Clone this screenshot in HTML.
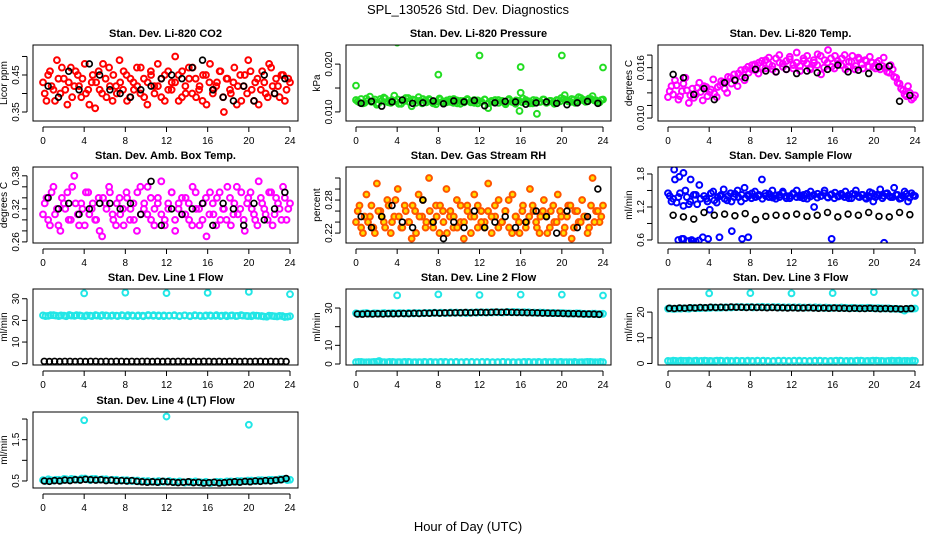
<!DOCTYPE html>
<html><head><meta charset="utf-8"><style>
body{margin:0;background:#fff;}
svg{display:block;font-family:"Liberation Sans",sans-serif;}
</style></head><body>
<svg id="chart" width="936" height="540" viewBox="0 0 936 540" xmlns="http://www.w3.org/2000/svg">
<rect width="936" height="540" fill="#fff"/>
<text x="468" y="14" font-size="13" text-anchor="middle">SPL_130526  Std. Dev. Diagnostics</text>
<text x="468" y="531" font-size="13" text-anchor="middle">Hour of Day (UTC)</text>
</svg>
<script>
const co2=[0.43,0.38,0.46,0.41,0.49,0.40,0.44,0.37,0.47,0.42,0.45,0.39,0.48,0.41,0.43,0.36,0.46,0.40,0.44,0.47,0.38,0.42,0.49,0.41,0.45,0.39,0.43,0.47,0.40,0.44,0.37,0.46,0.42,0.48,0.39,0.45,0.41,0.43,0.50,0.38,0.46,0.40,0.44,0.47,0.39,0.42,0.45,0.37,0.48,0.41,0.43,0.46,0.35,0.44,0.40,0.47,0.42,0.38,0.45,0.49,0.41,0.43,0.37,0.46,0.40,0.48,0.42,0.44,0.39,0.45,0.41,0.43];
const co2B=[0.40,0.45,0.42,0.38,0.44,0.47,0.41,0.43,0.39,0.46,0.42,0.44,0.40,0.37,0.45,0.43,0.41,0.48,0.39,0.42,0.45,0.40,0.43,0.46,0.38,0.44,0.41,0.42,0.47,0.39,0.43,0.45,0.40,0.42,0.44,0.38,0.46,0.41,0.43,0.45,0.39,0.42,0.47,0.40,0.44,0.41,0.38,0.45,0.43,0.40,0.42,0.46,0.39,0.44,0.41,0.43,0.37,0.45,0.42,0.40,0.46,0.38,0.44,0.41,0.43,0.39,0.47,0.40,0.42,0.45,0.38,0.44];
const co2Black=[0.42,0.39,0.46,0.41,0.48,0.45,0.41,0.40,0.39,0.41,0.42,0.44,0.45,0.44,0.47,0.49,0.41,0.39,0.38,0.42,0.38,0.45,0.40,0.44];
const pres=[0.0125,0.012,0.0118,0.0128,0.0132,0.0122,0.0115,0.0127,0.013,0.0121,0.0119,0.0134,0.0126,0.0117,0.0123,0.0129,0.0112,0.0125,0.0131,0.0118,0.0124,0.0127,0.0121,0.0116,0.0128,0.0122,0.012,0.0126,0.0119,0.0124,0.0117,0.0123,0.0127,0.012,0.0125,0.0118,0.0122,0.0126,0.0108,0.0121,0.0125,0.0119,0.0123,0.0116,0.0127,0.0121,0.0124,0.0102,0.0128,0.0122,0.0118,0.0125,0.0096,0.0121,0.0126,0.012,0.0123,0.0117,0.0124,0.0129,0.0135,0.0122,0.0127,0.0119,0.0131,0.0125,0.0121,0.0128,0.0133,0.0124,0.012,0.0126];
const presB=[0.0122,0.0127,0.0119,0.0124,0.0121,0.0126,0.0118,0.0123,0.0128,0.012,0.0125,0.0122,0.0117,0.0124,0.0129,0.0121,0.0126,0.0119,0.0123,0.0127,0.012,0.0125,0.0118,0.0122,0.0126,0.0119,0.0124,0.0121,0.0127,0.0118,0.0123,0.012,0.0125,0.0122,0.0119,0.0124,0.0121,0.0126,0.0118,0.0123,0.012,0.0125,0.0122,0.0119,0.0124,0.0121,0.0117,0.0123,0.012,0.0125,0.0122,0.0118,0.0124,0.0121,0.0126,0.0119,0.0123,0.012,0.0125,0.0122,0.0127,0.0124,0.0121,0.0126,0.0123,0.0129,0.0125,0.0122,0.0127,0.0124,0.0121,0.0125];
const presBlack=[0.0118,0.0122,0.0112,0.0121,0.0125,0.0118,0.0119,0.0123,0.0117,0.0123,0.0121,0.0124,0.0113,0.0119,0.0122,0.0121,0.0116,0.0119,0.0121,0.0118,0.0115,0.0119,0.0122,0.0118];
const presOutX=[0,4,8,12,16,16,20,24];
const presOutY=[0.0155,0.0245,0.0178,0.0218,0.0194,0.014,0.0218,0.0193];
const temp=[0.0125,0.0138,0.0145,0.0122,0.0132,0.0148,0.0118,0.0135,0.0128,0.0142,0.0121,0.0137,0.0131,0.0146,0.0125,0.0139,0.0143,0.013,0.0148,0.0152,0.0138,0.0157,0.0145,0.0161,0.0158,0.0164,0.0153,0.0168,0.0159,0.0172,0.0162,0.0155,0.0175,0.0165,0.0158,0.017,0.0163,0.0178,0.0156,0.0168,0.0174,0.016,0.0166,0.0176,0.0152,0.0169,0.0181,0.0161,0.0174,0.0165,0.0171,0.0158,0.0167,0.0174,0.0162,0.017,0.0159,0.0168,0.0173,0.0161,0.0166,0.0158,0.0172,0.0155,0.0163,0.0149,0.0142,0.0135,0.0128,0.0138,0.0122,0.0127];
const tempB=[0.0132,0.0128,0.0139,0.0126,0.0141,0.0133,0.0127,0.0124,0.0136,0.0131,0.0138,0.0126,0.0134,0.0129,0.0137,0.0144,0.0135,0.0149,0.0141,0.0146,0.0153,0.0149,0.0158,0.0154,0.0163,0.0157,0.0166,0.016,0.0169,0.0164,0.0158,0.0171,0.0166,0.0161,0.0168,0.0173,0.0159,0.0166,0.0162,0.0171,0.0165,0.0158,0.0169,0.0163,0.0174,0.016,0.0166,0.0171,0.0159,0.0168,0.0163,0.0175,0.0161,0.0167,0.0158,0.0172,0.0164,0.0169,0.0161,0.0166,0.0159,0.0168,0.0162,0.016,0.0154,0.0158,0.0148,0.0141,0.0133,0.0126,0.013,0.0124];
const tempBlack=[0.0152,0.0148,0.0128,0.0135,0.0122,0.0142,0.0145,0.0148,0.0158,0.0156,0.0155,0.0158,0.0153,0.0156,0.0154,0.0158,0.0163,0.0155,0.0157,0.0153,0.0161,0.0162,0.012,0.0127];
const amb=[0.31,0.34,0.29,0.36,0.32,0.28,0.33,0.35,0.30,0.38,0.31,0.33,0.29,0.35,0.32,0.30,0.34,0.27,0.33,0.36,0.31,0.29,0.34,0.32,0.35,0.30,0.33,0.28,0.36,0.32,0.31,0.34,0.29,0.33,0.37,0.30,0.32,0.35,0.28,0.33,0.31,0.34,0.30,0.36,0.32,0.29,0.33,0.27,0.35,0.31,0.34,0.30,0.32,0.36,0.29,0.33,0.31,0.35,0.28,0.34,0.32,0.30,0.37,0.33,0.31,0.35,0.29,0.34,0.32,0.36,0.30,0.33];
const ambB=[0.33,0.30,0.35,0.31,0.29,0.34,0.32,0.30,0.36,0.33,0.29,0.32,0.35,0.31,0.33,0.30,0.28,0.34,0.32,0.35,0.30,0.33,0.31,0.29,0.34,0.32,0.30,0.35,0.31,0.33,0.36,0.30,0.32,0.34,0.31,0.29,0.33,0.35,0.30,0.32,0.34,0.31,0.33,0.29,0.35,0.32,0.30,0.34,0.31,0.33,0.29,0.35,0.32,0.30,0.34,0.31,0.36,0.32,0.30,0.33,0.35,0.31,0.29,0.34,0.32,0.30,0.35,0.31,0.33,0.30,0.34,0.32];
const ambBlack=[0.34,0.32,0.33,0.31,0.32,0.33,0.33,0.32,0.33,0.31,0.37,0.29,0.32,0.31,0.32,0.33,0.29,0.33,0.32,0.29,0.33,0.30,0.32,0.35];
const rh=[0.24,0.27,0.22,0.29,0.25,0.23,0.31,0.26,0.24,0.28,0.22,0.25,0.30,0.23,0.27,0.24,0.21,0.26,0.29,0.25,0.23,0.32,0.24,0.27,0.22,0.26,0.30,0.25,0.23,0.28,0.24,0.21,0.27,0.25,0.29,0.23,0.26,0.24,0.31,0.22,0.25,0.28,0.24,0.26,0.23,0.29,0.25,0.22,0.27,0.24,0.30,0.26,0.23,0.25,0.28,0.22,0.26,0.24,0.29,0.25,0.23,0.27,0.21,0.26,0.24,0.28,0.25,0.23,0.32,0.26,0.24,0.27];
const rhB=[0.26,0.23,0.25,0.24,0.27,0.22,0.26,0.25,0.23,0.27,0.24,0.28,0.25,0.23,0.26,0.24,0.27,0.22,0.25,0.28,0.24,0.26,0.23,0.25,0.27,0.24,0.22,0.26,0.25,0.23,0.27,0.24,0.26,0.22,0.25,0.27,0.24,0.23,0.26,0.25,0.27,0.23,0.24,0.26,0.28,0.22,0.25,0.24,0.26,0.23,0.25,0.27,0.24,0.22,0.26,0.25,0.23,0.27,0.24,0.26,0.22,0.25,0.27,0.23,0.26,0.24,0.25,0.22,0.27,0.24,0.26,0.25];
const rhBlack=[0.25,0.23,0.25,0.27,0.24,0.23,0.28,0.24,0.21,0.24,0.23,0.26,0.23,0.24,0.25,0.23,0.24,0.26,0.25,0.22,0.26,0.23,0.25,0.30];
const flow=[1.45,1.3,1.7,1.38,0.62,1.5,1.25,0.58,1.42,1.6,0.65,1.35,1.15,1.48,1.28,1.4,1.52,1.32,1.45,1.38,1.5,1.3,1.55,1.42,1.36,1.48,1.4,1.7,1.45,1.38,1.5,1.35,1.42,1.48,1.4,1.36,1.45,1.5,1.38,1.42,1.35,1.48,1.2,1.44,1.4,1.5,1.37,1.43,1.46,1.39,1.41,1.48,1.36,1.44,1.5,1.38,1.42,1.35,1.47,1.3,1.42,1.52,1.4,1.45,1.38,1.55,1.42,1.36,1.48,1.3,1.45,1.4];
const flowB=[1.4,1.35,1.28,1.45,1.22,1.38,1.3,1.42,1.25,1.35,1.4,1.3,1.45,1.32,1.38,1.42,1.35,1.4,1.3,1.44,1.38,1.42,1.36,1.4,1.45,1.38,1.42,1.35,1.4,1.44,1.37,1.41,1.38,1.45,1.36,1.4,1.43,1.38,1.41,1.36,1.44,1.39,1.42,1.37,1.4,1.45,1.38,1.42,1.36,1.4,1.44,1.38,1.41,1.36,1.43,1.39,1.42,1.37,1.4,1.45,1.38,1.41,1.36,1.44,1.4,1.38,1.42,1.35,1.4,1.44,1.37,1.41];
const flowOutX=[1,1.5,2,2.3,2.7,3,3.9,5,6.2,7.2,7.8,15.9,21,0.6,1.1,1.5,2.2];
const flowOutY=[0.6,0.62,0.58,0.6,0.57,0.59,0.62,0.65,0.76,0.62,0.65,0.62,0.55,1.88,1.75,1.82,1.7];
const flowBlack=[1.05,1.02,0.98,1.1,1.05,1.07,1.04,1.08,0.97,1.03,1.05,1.04,1.07,1.03,1.05,1.1,1.02,1.07,1.05,1.1,1.03,1.02,1.1,1.06];
const line1Cyan=[22.3,22.1,22.4,22.0,22.2,22.5,22.1,22.3,21.9,22.2,22.4,22.0,22.3,22.1,22.2,22.4,21.9,22.3,22.0,22.2,22.5,22.1,22.3,22.0,22.2,22.4,22.1,22.3,21.9,22.2,22.0,22.3,22.1,22.4,22.2,21.9,22.3,22.1,22.2,22.0,22.3,22.1,21.8,22.2,21.9,22.1,21.6,21.9];
const line1CyanB=[22.0,22.4,22.2,22.3,21.9,22.2,22.4,22.1,22.3,22.0,22.2,22.4,22.1,22.3,22.0,22.2,22.4,22.1,22.3,21.9,22.2,22.4,22.0,22.3,22.1,22.2,21.9,22.3,22.1,22.4,22.2,22.0,22.3,22.1,22.0,22.3,22.2,22.0,22.4,22.1,21.9,22.2,22.0,21.7,22.1,21.8,22.0,21.7];
const line1Black=[1.1,1.0,1.1,1.0,1.1,1.1,1.0,1.1,1.0,1.1,1.1,1.0,1.1,1.0,1.1,1.1,1.0,1.1,1.0,1.1,1.1,1.0,1.1,1.0,1.1,1.0,1.1,1.1,1.0,1.1,1.0,1.1,1.1,1.0,1.1,1.0,1.1,1.1,1.0,1.1,1.0,1.1,1.1,1.0,1.1,1.0,1.1,1.0];
const line1OutX=[4,8,12,16,20,24];
const line1OutY=[32.5,32.8,32.6,32.7,33.2,32.1];
const line2Cyan=[27.2,27.0,27.3,26.9,27.1,27.2,27.0,27.3,27.1,27.2,27.4,27.1,27.3,27.2,27.4,27.5,27.3,27.4,27.6,27.4,27.5,27.3,27.6,27.5,27.7,27.6,27.8,27.7,27.6,27.8,27.9,27.7,27.8,27.6,27.5,27.6,27.4,27.3,27.2,27.3,27.1,27.0,27.2,26.9,26.8,27.0,26.7,26.9];
const line2CyanB=[26.9,27.2,27.0,27.2,27.0,27.3,27.1,27.2,27.3,27.0,27.2,27.3,27.2,27.4,27.3,27.4,27.5,27.3,27.5,27.6,27.4,27.6,27.5,27.7,27.6,27.7,27.6,27.8,27.7,27.9,27.7,27.8,27.6,27.7,27.5,27.4,27.5,27.3,27.4,27.2,27.2,27.1,27.0,27.1,26.9,26.8,27.0,26.8];
const line2Low=[1.0,1.1,0.9,1.0,1.2,1.0,0.9,1.1,1.0,1.0,1.1,0.9,1.0,1.1,1.0,0.9,1.0,1.1,1.0,1.0,0.9,1.1,1.0,1.0,1.1,0.9,1.0,1.0,1.1,1.0,0.9,1.0,1.1,1.0,1.0,0.9,1.1,1.0,1.0,1.1,1.0,0.9,0.8,1.0,1.1,1.0,0.9,1.0];
const line2LowB=[1.1,0.9,1.0,1.1,1.6,1.0,1.1,0.9,1.0,1.1,1.0,1.0,0.9,1.0,1.1,1.0,1.1,0.9,1.0,1.1,1.0,0.9,1.1,1.0,1.0,1.1,0.9,1.0,1.1,1.0,1.0,0.9,1.0,1.1,1.0,1.1,0.9,1.0,1.1,1.0,0.9,1.0,1.1,0.9,1.0,1.1,1.0,1.1];
const line2Black=[26.8,26.7,26.9,26.8,26.9,26.8,27.0,26.9,27.0,27.1,27.0,27.2,27.1,27.3,27.2,27.4,27.3,27.4,27.4,27.5,27.5,27.6,27.5,27.6,27.7,27.6,27.7,27.8,27.7,27.8,27.7,27.6,27.6,27.5,27.5,27.4,27.3,27.3,27.2,27.2,27.1,27.0,27.0,26.9,26.8,26.8,26.7,26.6];
const line2OutX=[4,8,12,16,20,24];
const line2OutY=[36.8,37.3,37.0,37.2,37.2,36.7];
const line3Cyan=[21.3,21.2,21.4,21.5,21.3,21.6,21.5,21.7,21.6,21.8,21.7,21.9,21.8,21.9,22.0,21.9,22.0,21.9,22.1,22.0,21.9,22.0,21.8,21.9,21.8,21.9,21.7,21.8,21.9,21.7,21.8,21.6,21.7,21.8,21.6,21.7,21.5,21.6,21.7,21.5,21.6,21.4,21.5,21.3,21.2,20.6,21.3,21.4];
const line3CyanB=[21.4,21.3,21.3,21.4,21.6,21.5,21.6,21.6,21.8,21.7,21.8,21.8,21.9,22.0,21.9,22.0,21.8,22.0,21.9,21.9,22.0,21.8,21.9,21.8,21.9,21.7,21.8,21.8,21.7,21.8,21.6,21.7,21.7,21.6,21.7,21.5,21.6,21.6,21.5,21.6,21.4,21.5,21.4,21.3,21.3,21.0,21.2,21.3];
const line3Low=[1.0,1.1,0.9,1.0,1.1,1.0,0.9,1.1,1.0,1.0,1.1,0.9,1.0,1.1,1.0,0.9,1.0,1.1,1.0,1.0,0.9,1.1,1.0,1.0,1.1,0.9,1.0,1.0,1.1,1.0,0.9,1.0,1.1,1.0,1.0,0.9,1.1,1.0,1.0,1.1,1.0,0.9,1.0,1.0,1.1,1.0,0.9,1.0];
const line3LowB=[0.9,1.0,1.1,1.0,0.9,1.1,1.0,1.0,0.9,1.1,1.0,1.1,0.9,1.0,1.0,1.1,0.9,1.0,1.1,0.9,1.0,1.0,1.1,0.9,1.0,1.1,1.0,0.9,1.0,1.1,1.0,0.9,1.0,1.1,0.9,1.0,1.0,1.1,0.9,1.0,1.1,1.0,0.9,1.1,1.0,0.9,1.0,1.1];
const line3Black=[21.5,21.4,21.6,21.5,21.7,21.6,21.8,21.7,21.9,21.8,21.9,21.8,22.0,21.9,21.9,21.8,21.9,21.8,21.8,21.7,21.8,21.7,21.7,21.6,21.7,21.6,21.6,21.7,21.6,21.5,21.6,21.5,21.6,21.5,21.5,21.4,21.5,21.4,21.4,21.5,21.4,21.3,21.4,21.3,21.3,21.2,21.3,21.4];
const line3OutX=[4,8,12,16,20,24];
const line3OutY=[27.3,27.4,27.3,27.4,27.8,27.5];
const line4Cyan=[0.52,0.54,0.51,0.53,0.55,0.52,0.54,0.53,0.56,0.52,0.55,0.53,0.54,0.52,0.53,0.51,0.52,0.50,0.51,0.49,0.50,0.48,0.50,0.49,0.50,0.48,0.49,0.47,0.48,0.49,0.47,0.48,0.46,0.48,0.47,0.49,0.48,0.50,0.49,0.51,0.50,0.52,0.51,0.53,0.52,0.54,0.55,0.53];
const line4CyanB=[0.50,0.52,0.53,0.51,0.54,0.55,0.53,0.56,0.54,0.55,0.53,0.54,0.52,0.53,0.51,0.52,0.50,0.51,0.49,0.50,0.48,0.49,0.47,0.48,0.49,0.47,0.48,0.46,0.47,0.48,0.46,0.47,0.45,0.47,0.48,0.47,0.49,0.48,0.50,0.49,0.51,0.50,0.52,0.51,0.53,0.52,0.54,0.52];
const line4Black=[0.50,0.49,0.51,0.50,0.52,0.51,0.53,0.52,0.54,0.53,0.52,0.53,0.51,0.52,0.50,0.51,0.50,0.51,0.49,0.48,0.47,0.48,0.47,0.49,0.48,0.47,0.46,0.47,0.48,0.46,0.47,0.45,0.46,0.47,0.45,0.46,0.47,0.48,0.47,0.49,0.48,0.50,0.49,0.51,0.50,0.52,0.53,0.56];
const line4OutX=[4,12,20];
const line4OutY=[1.97,2.06,1.86];
const xTicks=[0,4,8,12,16,20,24];

const svg=document.getElementById('chart');
const NS='http://www.w3.org/2000/svg';
function mk(tag,attrs,parent){const e=document.createElementNS(NS,tag);for(const k in attrs)e.setAttribute(k,attrs[k]);(parent||svg).appendChild(e);return e;}

const CY='#22e6e6';
const panels=[
 {t:'Stan. Dev. Li-820 CO2',yl:'Licor ppm',c:0,r:0,y0:0.3257,y1:0.531,ticks:[0.35,0.40,0.45,0.50],labs:['0.35','','0.45',''],
  s:[{v:co2,col:'#ff0000'},{v:co2B,col:'#ff0000',off:0.5},{v:co2Black,col:'#000',off:0.5}]},
 {t:'Stan. Dev. Li-820 Pressure',yl:'kPa',c:1,r:0,y0:0.0081,y1:0.0240,ticks:[0.010,0.015,0.020],labs:['0.010','','0.020'],
  s:[{v:pres,col:'#22dd22'},{v:presB,col:'#22dd22',off:0.5},{x:presOutX,v:presOutY,col:'#22dd22'},{v:presBlack,col:'#000',off:0.5}]},
 {t:'Stan. Dev. Li-820 Temp.',yl:'degrees C',c:2,r:0,y0:0.00965,y1:0.0187,ticks:[0.010,0.0115,0.013,0.0145,0.016,0.0175],labs:['0.010','','','','0.016',''],
  s:[{v:temp,col:'#ff00ff'},{v:tempB,col:'#ff00ff',off:0.5},{v:tempBlack,col:'#000',off:0.5}]},
 {t:'Stan. Dev. Amb. Box Temp.',yl:'degrees C',c:0,r:1,y0:0.258,y1:0.396,ticks:[0.26,0.28,0.30,0.32,0.34,0.36,0.38],labs:['0.26','','','0.32','','','0.38'],
  s:[{v:amb,col:'#ff00ff'},{v:ambB,col:'#ff00ff',off:0.5},{v:ambBlack,col:'#000',off:0.5}]},
 {t:'Stan. Dev. Gas Stream RH',yl:'percent',c:1,r:1,y0:0.202,y1:0.34,ticks:[0.22,0.24,0.26,0.28,0.30,0.32],labs:['0.22','','','0.28','',''],
  s:[{v:rh,col:'#ff5500',fill:'#ffdd00'},{v:rhB,col:'#ff5500',fill:'#ffdd00',off:0.5},{v:rhBlack,col:'#000',off:0.5}]},
 {t:'Stan. Dev. Sample Flow',yl:'ml/min',c:2,r:1,y0:0.545,y1:1.927,ticks:[0.6,0.9,1.2,1.5,1.8],labs:['0.6','','1.2','','1.8'],
  s:[{v:flow,col:'#0000ff'},{v:flowB,col:'#0000ff',off:0.5},{x:flowOutX,v:flowOutY,col:'#0000ff'},{v:flowBlack,col:'#000',off:0.5}]},
 {t:'Stan. Dev. Line 1 Flow',yl:'ml/min',c:0,r:2,y0:-0.6,y1:34.5,ticks:[0,10,20,30],labs:['0','10','20','30'],
  s:[{v:line1Cyan,col:CY},{v:line1CyanB,col:CY,off:0.5},{x:line1OutX,v:line1OutY,col:CY},{v:line1Black,col:'#000',off:0.25}]},
 {t:'Stan. Dev. Line 2 Flow',yl:'ml/min',c:1,r:2,y0:-0.54,y1:40.2,ticks:[0,10,20,30],labs:['0','10','','30'],
  s:[{v:line2Cyan,col:CY},{v:line2CyanB,col:CY,off:0.5},{v:line2Low,col:CY},{v:line2LowB,col:CY,off:0.5},{x:line2OutX,v:line2OutY,col:CY},{v:line2Black,col:'#000',off:0.25}]},
 {t:'Stan. Dev. Line 3 Flow',yl:'ml/min',c:2,r:2,y0:-0.6,y1:29.0,ticks:[0,10,20],labs:['0','10','20'],
  s:[{v:line3Cyan,col:CY},{v:line3CyanB,col:CY,off:0.5},{v:line3Low,col:CY},{v:line3LowB,col:CY,off:0.5},{x:line3OutX,v:line3OutY,col:CY},{v:line3Black,col:'#000',off:0.25}]},
 {t:'Stan. Dev. Line 4 (LT) Flow',yl:'ml/min',c:0,r:3,y0:0.33,y1:2.17,ticks:[0.5,1.0,1.5,2.0],labs:['0.5','','1.5',''],
  s:[{v:line4Cyan,col:CY},{v:line4CyanB,col:CY,off:0.5},{x:line4OutX,v:line4OutY,col:CY},{v:line4Black,col:'#000',off:0.25}]}
];
const colLeft=[33,346,658], rowTop=[45,167,289,412], W=265, H=76;

panels.forEach((p,pi)=>{
  const L=colLeft[p.c], T=rowTop[p.r];
  const g=mk('g',{});
  
  
  const xs=t=>L+10+t*(247/24);
  const ys=v=>T+H-(v-p.y0)/(p.y1-p.y0)*H;
  const title=mk('text',{x:L+W/2,y:T-8,'font-size':11,'font-weight':'bold','text-anchor':'middle'},g);
  title.textContent=p.t;
  
  
  const cid='clip'+pi;
  const cp=mk('clipPath',{id:cid},g); mk('rect',{x:L,y:T,width:W,height:H},cp);
  const pts=mk('g',{'clip-path':'url(#'+cid+')'},g);
  p.s.forEach(s=>{
    const n=s.v.length;
    s.v.forEach((v,i)=>{
      const t=s.x?s.x[i]:(s.off!==undefined?(i+s.off)*24/n:i*24/(n-1));
      const c=mk('circle',{cx:xs(t),cy:ys(v),r:2.9,fill:s.fill||'none',stroke:s.col,'stroke-width':s.col==='#000'?1.7:2},pts);
      
      
    });
  });
  const box=mk('rect',{x:L,y:T,width:W,height:H,fill:'none',stroke:'#000','stroke-width':1},g);
  
  
  mk('line',{x1:xs(0),x2:xs(24),y1:T+H+6,y2:T+H+6,stroke:'#000'},g);
  xTicks.forEach(t=>{
    mk('line',{x1:xs(t),x2:xs(t),y1:T+H+6,y2:T+H+11,stroke:'#000'},g);
    const tx=mk('text',{x:xs(t),y:T+H+23,'font-size':10,'text-anchor':'middle'},g);
    tx.textContent=t;
    
    
  });
  const yv=p.ticks;
  mk('line',{x1:L-6,x2:L-6,y1:ys(yv[0]),y2:ys(yv[yv.length-1]),stroke:'#000'},g);
  yv.forEach((v,i)=>{
    const y=ys(v);
    mk('line',{x1:L-11,x2:L-6,y1:y,y2:y,stroke:'#000'},g);
    if(p.labs[i]){
      const tx=mk('text',{x:L-14,y:y,'font-size':10,'text-anchor':'middle',transform:'rotate(-90 '+(L-14)+' '+y+')'},g);
      tx.textContent=p.labs[i];
      
      
    }
  });
  const yt=mk('text',{x:L-26,y:T+H/2,'font-size':10,'text-anchor':'middle',transform:'rotate(-90 '+(L-26)+' '+(T+H/2)+')'},g);
  yt.textContent=p.yl;
  
  
});
</script>
</body></html>
